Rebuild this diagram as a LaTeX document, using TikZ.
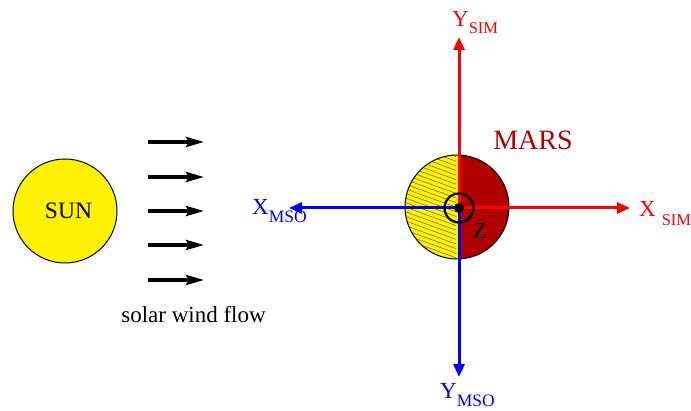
\documentclass[tikz,border=0pt]{standalone}
\usepackage{fontspec}
\setmainfont{Liberation Serif}
\usetikzlibrary{arrows.meta}
\definecolor{marsred}{RGB}{176,0,0}
\definecolor{axred}{RGB}{255,0,0}
\definecolor{axblue}{RGB}{0,0,255}
\tikzset{
  windarrow/.style={line width=3.5pt,-{Stealth[length=18pt,width=10pt,inset=3pt]}},
  simaxis/.style={axred,line width=3pt,-{Triangle[length=13pt,width=11pt]}},
  msoaxis/.style={axblue,line width=3pt,-{Triangle[length=13pt,width=11pt]}},
  lbl/.style={inner sep=0pt,anchor=base west},
}
\newcommand{\fs}[1]{\fontsize{#1}{#1}\selectfont}
\begin{document}
\begin{tikzpicture}[x=1pt,y=-1pt]
\useasboundingbox (0,0) rectangle (691,411);
% Sun
\node[circle,draw=black,line width=1pt,fill=yellow,minimum size=104pt,inner sep=0pt] (sun) at (65,211) {};
\node[inner sep=0pt] (suntxt) at (68.5,211) {\fs{23.5}SUN};
% solar wind arrows
\foreach \i/\y in {1/142,2/177,3/211,4/245,5/280}{
  \coordinate (ws\i) at (148,\y);
  \coordinate (we\i) at (204,\y);
  \draw[windarrow] (ws\i) -- (we\i);
}
\node[inner sep=0pt,anchor=base] (swf) at (193.5,323) {\fs{23}solar wind flow};
% Mars
\coordinate (mc) at (457,207);
\coordinate (O) at (459,208);
\fill[yellow] (mc) circle (52);
\begin{scope}
  \clip (mc) circle (52);
  \fill[marsred] (459,150) rectangle (515,265);
  \clip (400,150) rectangle (456,265);
  \foreach \k in {-16,...,30}{
    \draw[black!75,line width=0.4pt] (400,150+4.6*\k) -- ++(70,25.5);
  }
\end{scope}
\draw[black,line width=1pt] (mc) circle (52);
\node[inner sep=0pt,text=marsred] (mars) at (533,140) {\fs{28}MARS};
% axes
\coordinate (ysim) at (459,37);
\coordinate (xsim) at (630,208);
\coordinate (xmso) at (289,208);
\coordinate (ymso) at (459,377);
\draw[simaxis] (O) -- (ysim);
\draw[simaxis] (O) -- (xsim);
\draw[msoaxis] (O) -- (xmso);
\draw[msoaxis] (O) -- (ymso);
% z-axis symbol
\draw[black,line width=2.2pt] (O) circle (14.5);
\fill[black] (O) circle (5);
\node[inner sep=0pt] (z) at (480,231) {\fs{23}Z};
% labels
\node[lbl,text=axred] (lysim) at (452,27) {\fs{23}Y\raisebox{-7pt}{\fs{16.5}SIM}};
\node[lbl,text=axred] (lxsim) at (639,217) {\fs{23}X\hspace{6pt}\raisebox{-9pt}{\fs{16.5}SIM}};
\node[lbl,text=axblue] (lxmso) at (252,215) {\fs{23}X\raisebox{-8pt}{\fs{17.5}MSO}};
\node[lbl,text=axblue] (lymso) at (440,399) {\fs{23}Y\raisebox{-8pt}{\fs{17.5}MSO}};
\end{tikzpicture}
\end{document}
